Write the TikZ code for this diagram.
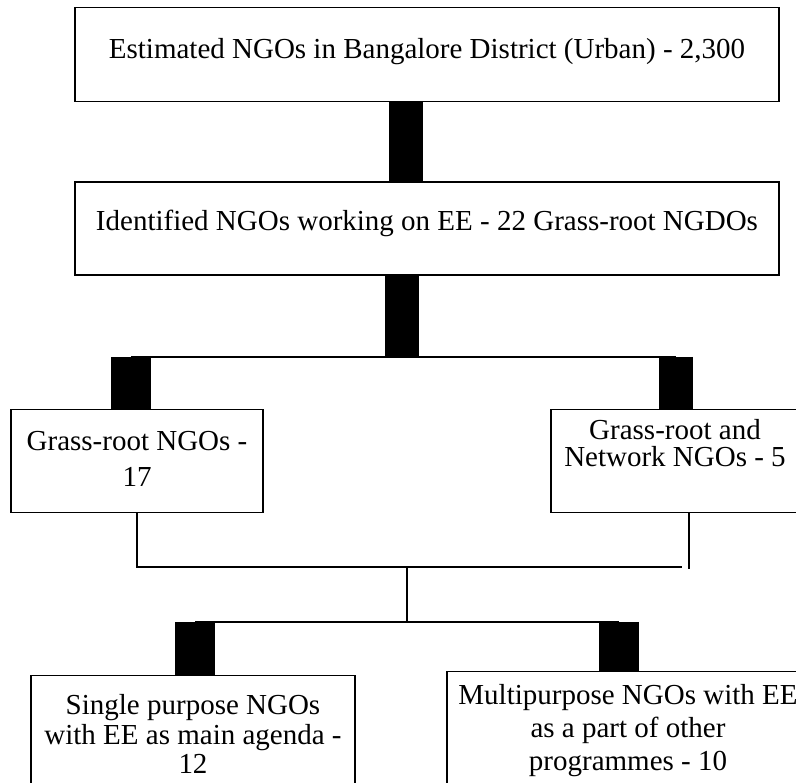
\documentclass[tikz,border=0pt]{standalone}
\usepackage{fontspec}
\setmainfont{Liberation Serif}
\usetikzlibrary{
positioning,
}
\tikzset{
node distance=79pt,
every node/.style={align=center, font=\fontsize{29}{33}\selectfont},
box/.style={rectangle, draw, line width=1.5pt, inner sep=0pt, anchor=north},
wire/.style={line width=1.3pt},
bar/.style={line width=34pt},
widebar/.style={line width=40pt},
}

\begin{document}
\begin{tikzpicture}[x=1pt, y=1pt]
    \useasboundingbox (0,0) rectangle (796,783);

    \node [box, minimum width=704pt, text height=51pt, text depth=43pt] (est) at (427,776) {Estimated NGOs in Bangalore District (Urban) - 2,300};
    \node [box, minimum width=704pt, text height=48pt, text depth=45pt, below=of est] (ident) {Identified NGOs working on EE - 22 Grass-root NGDOs};
    \node [box, minimum width=252pt, text height=77pt, text depth=26pt] (grass) at (137,374) {Grass-root NGOs -\\[3pt]17};
    \node [box, minimum width=248pt, text height=57pt, text depth=46pt] (network) at (675,374) {Grass-root and\\[-6pt]Network NGOs - 5};
    \node [box, minimum width=324pt, text height=98pt, text depth=40pt] (single) at (193,108) {Single purpose NGOs\\[-3pt]with EE as main agenda -\\[-4pt]12};
    \node [box, minimum width=362pt, text height=99pt, text depth=40pt] (multi) at (628,112) {Multipurpose NGOs with EE\\as a part of other\\programmes - 10};

    \coordinate (top) at (406,0);
    \coordinate (split) at (402,425);
    \coordinate (left1) at (131,426);
    \coordinate (right1) at (676,426);
    \coordinate (left2) at (137,216);
    \coordinate (right2) at (682,216);
    \coordinate (rightend) at (689,214);
    \coordinate (mid2) at (407,216);
    \coordinate (mid3) at (407,161);
    \coordinate (left3) at (195,161);
    \coordinate (right3) at (619,161);

    \draw [bar] (est.south -| top) -- (ident.north -| top);
    \draw [bar] (ident.south -| split) -- (split);
    \draw [wire] (left1) -- (right1);
    \draw [widebar] (left1) -- (grass.north -| left1);
    \draw [bar] (right1) -- (network.north -| right1);

    \draw [wire] (grass.south -| left2) -- (left2) -- (right2);
    \draw [wire] (network.south -| rightend) -- (rightend);
    \draw [wire] (mid2) -- (mid3);
    \draw [wire] (left3) -- (right3);
    \draw [widebar] (left3) -- (single.north -| left3);
    \draw [widebar] (right3) -- (multi.north -| right3);
\end{tikzpicture}
\end{document}
